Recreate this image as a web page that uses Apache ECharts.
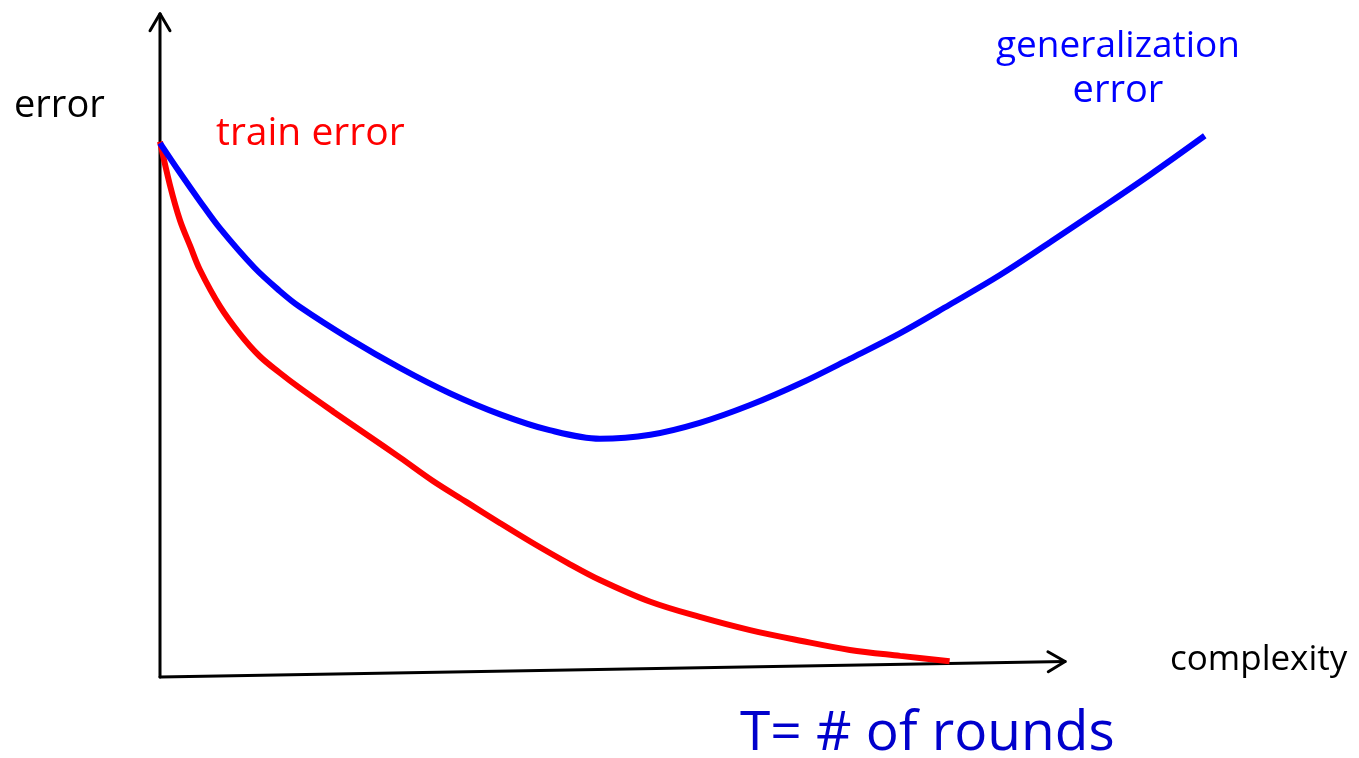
<!DOCTYPE html>
<html>
<head>
<meta charset="utf-8">
<script src="https://cdn.jsdelivr.net/npm/echarts@6/dist/echarts.min.js"></script>
<style>
  html, body { margin: 0; padding: 0; background: #fff; }
  #main { width: 1359px; height: 758px; }
</style>
</head>
<body>
<div id="main"></div>
<script>
// complexity (x) vs error (y)
const genX = [0, 0.19, 0.38, 0.57, 0.9, 1.14, 1.33, 1.81, 2.29, 2.76, 3.24, 3.71, 4.19, 4.67, 5.14, 5.62, 6.1, 6.57, 7.05, 7.52, 8.0, 8.48, 8.95, 9.43, 9.95];
const genY = [8.09, 7.64, 7.21, 6.8, 6.2, 5.85, 5.61, 5.12, 4.68, 4.3, 3.98, 3.74, 3.61, 3.67, 3.85, 4.12, 4.45, 4.82, 5.21, 5.64, 6.09, 6.59, 7.09, 7.61, 8.2];
const trainX = [0, 0.095, 0.19, 0.29, 0.38, 0.57, 0.76, 0.95, 1.14, 1.33, 1.65, 1.97, 2.29, 2.6, 2.92, 3.24, 3.55, 3.88, 4.19, 4.67, 5.14, 5.62, 6.1, 6.57, 7.05, 7.52];
const trainY = [8.11, 7.45, 6.92, 6.52, 6.17, 5.62, 5.2, 4.86, 4.61, 4.38, 4.02, 3.67, 3.32, 2.97, 2.65, 2.33, 2.03, 1.73, 1.47, 1.14, 0.91, 0.71, 0.55, 0.41, 0.32, 0.24];
// hand drawn axes (the x axis is slightly tilted)
const xAxisEnd = [8.62, 0.235];
const yAxisEnd = [0, 10.05];

const chart = echarts.init(document.getElementById('main'));
const font = '"Open Sans", sans-serif';

const pairs = (xs, ys) => xs.map((x, i) => [x, ys[i]]);

chart.setOption({
  animation: false,
  grid: { left: 160, right: 149, top: 17, bottom: 81 },
  xAxis: { type: 'value', min: 0, max: 10, show: false },
  yAxis: { type: 'value', min: 0, max: 10, show: false },
  series: [
    {
      name: 'generalization error',
      type: 'line',
      data: pairs(genX, genY),
      smooth: 0.35,
      showSymbol: false,
      lineStyle: { color: '#0000ff', width: 6 },
      z: 3
    },
    {
      name: 'train error',
      type: 'line',
      data: pairs(trainX, trainY),
      smooth: 0.35,
      showSymbol: false,
      lineStyle: { color: '#ff0000', width: 6 },
      z: 2
    }
  ]
});

// axes + open arrow heads, placed from data coords
const px = p => chart.convertToPixel({ gridIndex: 0 }, p);
function arrowAxis(from, to) {
  const a = px(from), b = px(to);
  const dx = b[0] - a[0], dy = b[1] - a[1];
  const len = Math.sqrt(dx * dx + dy * dy);
  const ux = dx / len, uy = dy / len;
  const back = 17, side = 10;
  const bx = b[0] - ux * back, by = b[1] - uy * back;
  const stroke = { stroke: '#000', lineWidth: 3, fill: null, lineCap: 'round', lineJoin: 'round' };
  return [
    { type: 'polyline', shape: { points: [a, b] }, style: stroke, z: 1 },
    { type: 'polyline', shape: { points: [[bx - uy * side, by + ux * side], b, [bx + uy * side, by - ux * side]] }, style: stroke, z: 1 }
  ];
}

function label(text, x, y, size, color, align) {
  return {
    type: 'text', x: x, y: y, z: 5,
    style: { text: text, fontSize: size, fontFamily: font, fill: color, align: align || 'left', verticalAlign: 'middle' }
  };
}

chart.setOption({
  graphic: [
    ...arrowAxis([0, 0], yAxisEnd),
    ...arrowAxis([0, 0], xAxisEnd),
    label('error', 14, 106, 38, '#000'),
    label('train error', 216, 134, 39, '#ff0000'),
    label('generalization', 1118, 46, 37, '#0000ff', 'center'),
    label('error', 1118, 91, 38, '#0000ff', 'center'),
    label('complexity', 1170, 660, 35, '#000'),
    label('T= # of rounds', 740, 734, 55, '#0000cc')
  ]
});
</script>
</body>
</html>
